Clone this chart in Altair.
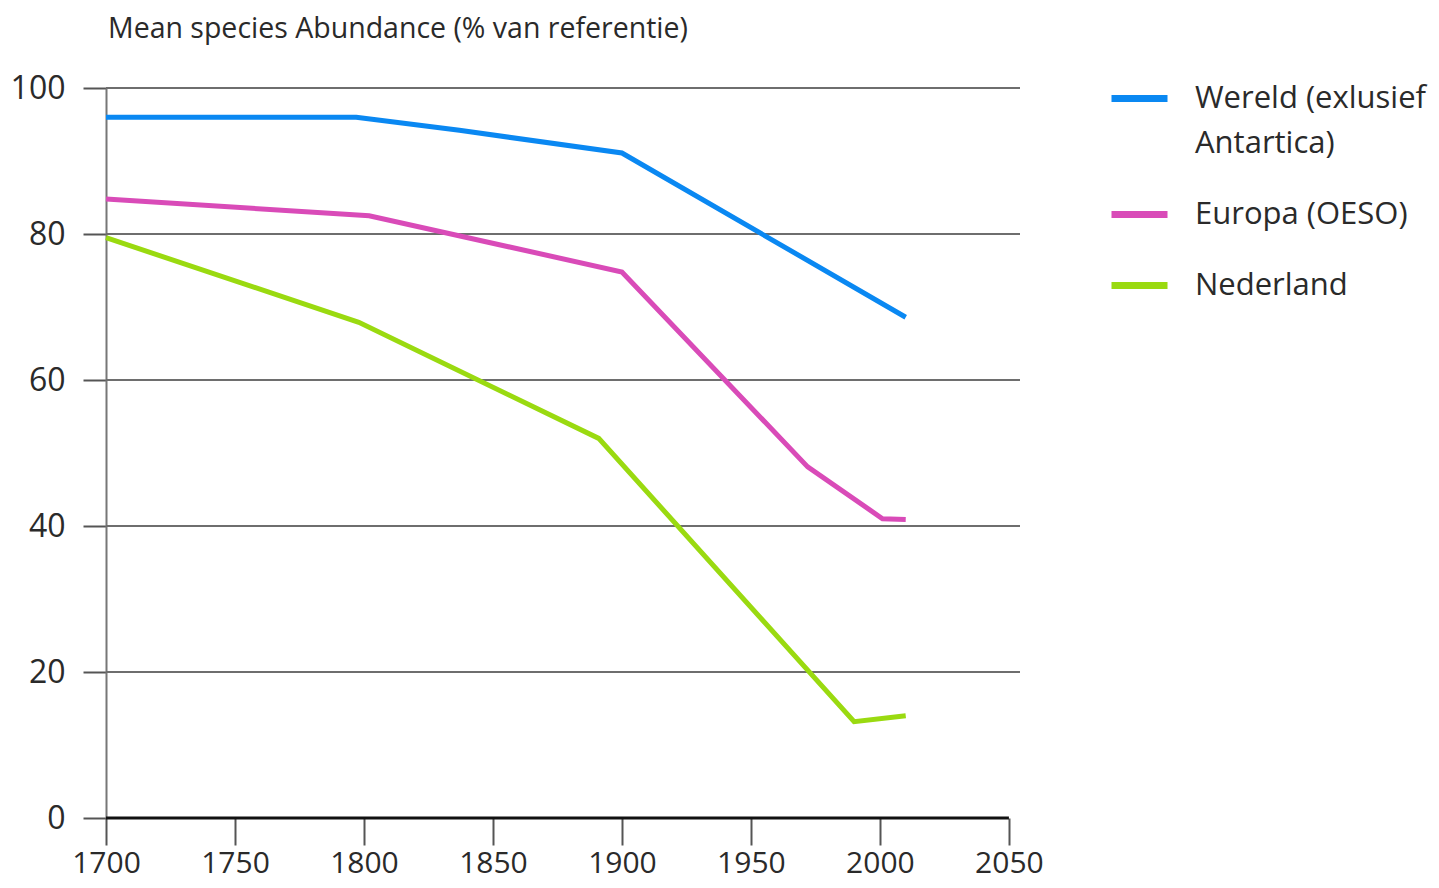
import altair as alt
import pandas as pd

series = ["Wereld (exlusief Antartica)", "Europa (OESO)", "Nederland"]
colors = ["#0a88f2", "#d94bb8", "#9ada10"]

wereld_years = [1700, 1797, 1837, 1900, 2010]
wereld_vals = [96.0, 96.0, 94.2, 91.1, 68.6]
europa_years = [1700, 1802, 1900, 1972, 2001, 2010]
europa_vals = [84.8, 82.5, 74.8, 48.1, 41.0, 40.9]
ned_years = [1700, 1798, 1891, 1990, 2010]
ned_vals = [79.5, 67.9, 52.0, 13.2, 14.0]

x_ticks = [1700, 1750, 1800, 1850, 1900, 1950, 2000, 2050]
y_ticks = [0, 20, 40, 60, 80, 100]

FONT = "Open Sans"
TXT = "#2a2a2a"

rows = []
for name, ys, vs in [(series[0], wereld_years, wereld_vals),
                     (series[1], europa_years, europa_vals),
                     (series[2], ned_years, ned_vals)]:
    for yv, v in zip(ys, vs):
        rows.append({"series": name, "year": yv, "value": v})
df = pd.DataFrame(rows)

xscale = alt.Scale(domain=[x_ticks[0], 2054.3], nice=False, zero=False)
yscale = alt.Scale(domain=[y_ticks[0], y_ticks[-1]], nice=False)

xaxis = alt.Axis(values=x_ticks, format="d", grid=False, domain=False,
                 tickSize=27, tickColor="#555555", tickWidth=2,
                 labelFontSize=30, labelFont=FONT, labelColor=TXT,
                 labelPadding=3, labelFlush=False, title=None)
yaxis = alt.Axis(values=y_ticks, grid=False, domain=True,
                 domainColor="#777777", domainWidth=2,
                 tickSize=23, tickColor="#555555", tickWidth=2,
                 labelFontSize=32, labelFont=FONT, labelColor=TXT,
                 labelPadding=18, labelFlush=False, title=None)

grid_df = pd.DataFrame({"v": y_ticks[1:]})
grid = alt.Chart(grid_df).mark_rule(color="#6e6e6e", strokeWidth=2).encode(
    y=alt.Y("v:Q", scale=yscale, axis=yaxis),
    x=alt.value(0),
    x2=alt.value(914),
)

axis_df = pd.DataFrame({"x": [x_ticks[0]], "x2": [x_ticks[-1]], "y": [0]})
xaxis_line = alt.Chart(axis_df).mark_rule(color="#111111", strokeWidth=3).encode(
    x=alt.X("x:Q", scale=xscale, axis=xaxis),
    x2="x2:Q",
    y=alt.Y("y:Q", scale=yscale, axis=yaxis),
)

lines = alt.Chart(df).mark_line(strokeWidth=5, strokeCap="butt", strokeJoin="miter").encode(
    x=alt.X("year:Q", scale=xscale, axis=xaxis),
    y=alt.Y("value:Q", scale=yscale, axis=yaxis),
    color=alt.Color("series:N", scale=alt.Scale(domain=series, range=colors),
                    legend=alt.Legend(
                        title=None, orient="none", legendX=1002, legendY=-21,
                        symbolType="stroke", symbolSize=3136, symbolStrokeWidth=7,
                        labelFontSize=31, labelFont=FONT, labelColor=TXT,
                        labelOffset=24, rowPadding=24, labelLimit=400, padding=0,
                        labelExpr="datum.label == 'Wereld (exlusief Antartica)' ? ['Wereld (exlusief', 'Antartica)'] : datum.label",
                    )),
)

chart = alt.layer(grid, xaxis_line, lines).properties(
    width=914, height=730,
    autosize=alt.AutoSizeParams(type="none"),
    padding={"left": 98, "top": 80, "right": 411, "bottom": 62},
    title=alt.TitleParams("Mean species Abundance (% van referentie)", anchor="start",
                          frame="group",
                          fontSize=28.5, font=FONT, fontWeight="normal", color=TXT,
                          offset=24, dx=2),
).configure(style={"guide-label": {"lineHeight": 45}}).configure_view(stroke=None)

chart.save("out.html", embed_options={"renderer": "svg", "actions": False})
